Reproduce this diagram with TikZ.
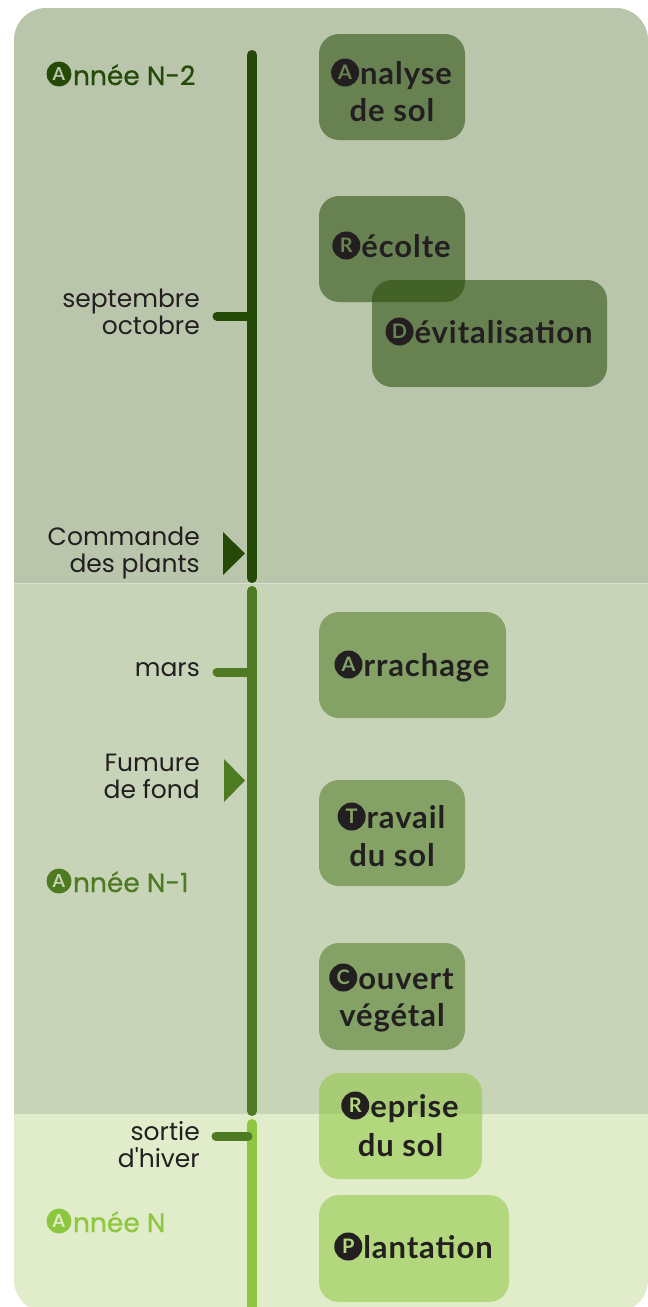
\documentclass[tikz,border=0pt]{standalone}
\usepackage{fontspec}
\setmainfont{Lato}
\newfontfamily\labfont{Poppins}
\newfontfamily\yearfont[FakeBold=0.6]{Poppins}
\newfontfamily\boxfont[LetterSpace=3]{Lato}
\definecolor{bgA}{HTML}{B9C6AC}
\definecolor{bgB}{HTML}{C7D4B8}
\definecolor{bgC}{HTML}{E0ECCA}
\definecolor{gA}{HTML}{254A08}
\definecolor{gB}{HTML}{4E7A22}
\definecolor{gC}{HTML}{8DC63F}
\definecolor{txt}{HTML}{231F20}
\definecolor{boxAa}{HTML}{688252}
\definecolor{boxBa}{HTML}{84A265}
\definecolor{boxCa}{HTML}{B2D77E}
\tikzset{
  stepbox/.style={rounded corners=20pt, fill opacity=0.55, draw=none},
  btxt/.style={anchor=base, inner sep=0pt, outer sep=0pt, text=txt,
    font=\boxfont\bfseries\fontsize{31}{37}\selectfont},
  bcirc/.style={circle, fill=txt, minimum size=28pt, inner sep=0pt, outer sep=0pt,
    font=\normalfont\bfseries\fontsize{20}{20}\selectfont},
  ycirc/.style={circle, minimum size=25pt, inner sep=0pt, outer sep=0pt,
    font=\normalfont\bfseries\fontsize{18}{18}\selectfont},
  lab/.style={anchor=east, inner sep=0pt, align=right, text=txt,
    font=\labfont\fontsize{25}{27}\selectfont},
  yearlab/.style={anchor=base west, inner sep=0pt, outer sep=0pt,
    font=\yearfont\fontsize{26.5}{28}\selectfont},
  tl/.style={line width=10pt, line cap=round},
  tick/.style={line width=9pt, line cap=round},
}
\begin{document}
\begin{tikzpicture}[x=1pt,y=-1pt]
\useasboundingbox (0,0) rectangle (648,1307);
% background bands
\begin{scope}
\clip[rounded corners=32pt] (14,8) rectangle (648,1312);
\fill[bgA] (14,8) rectangle (648,583.5);
\fill[bgB] (14,583.5) rectangle (648,1114);
\fill[bgC] (14,1114) rectangle (648,1312);
\draw[white, opacity=0.45, line width=1pt] (14,583.5) -- (648,583.5);
\end{scope}
% timeline
\coordinate (t1a) at (252,55);
\coordinate (t1b) at (252,578);
\coordinate (t2a) at (252,591);
\coordinate (t2b) at (252,1111);
\coordinate (t3a) at (252,1124);
\coordinate (t3b) at (252,1330);
\draw[tl, gA] (t1a) -- (t1b);
\draw[tl, gB] (t2a) -- (t2b);
\draw[tl, gC] (t3a) -- (t3b);
% ticks
\coordinate (k1) at (217,316);
\coordinate (k1e) at (252,316);
\coordinate (k2) at (217,672);
\coordinate (k2e) at (252,672);
\coordinate (k3) at (216,1136);
\coordinate (k3e) at (248,1136);
\draw[tick, gA] (k1) -- (k1e);
\draw[tick, gB] (k2) -- (k2e);
\draw[tick, gB] (k3) -- (k3e);
% triangles
\fill[gA] (223,532) -- (245,553.5) -- (223,575) -- cycle;
\fill[gB] (224,759) -- (245,780.5) -- (224,802) -- cycle;
% year labels
\node[yearlab, text=gA] (yA) at (73,85) {nnée N-2};
\node[ycirc, fill=gA, text=bgA] (yAc) at ([xshift=-14pt,yshift=11pt]yA.base west) {A};
\node[yearlab, text=gB] (yB) at (73,892) {nnée N-1};
\node[ycirc, fill=gB, text=bgB] (yBc) at ([xshift=-14pt,yshift=11pt]yB.base west) {A};
\node[yearlab, text=gC] (yC) at (73,1232) {nnée N};
\node[ycirc, fill=gC, text=bgC] (yCc) at ([xshift=-14pt,yshift=11pt]yC.base west) {A};
% left labels
\node[lab] (lsept) at (200,312) {septembre\\octobre};
\node[lab] (lcmd) at (200,553) {Commande\\des plants};
\node[lab] (lmars) at (200,670) {mars};
\node[lab] (lfum) at (200,776) {Fumure\\de fond};
\node[lab] (lsort) at (200,1145) {sortie\\d'hiver};
% boxes
\fill[stepbox, gA] (319,34) rectangle (465,140);
\fill[stepbox, gA] (319,196) rectangle (465,302);
\fill[stepbox, gA] (372,280) rectangle (607,387);
\fill[stepbox, gB] (319,612) rectangle (506,718);
\fill[stepbox, gB] (319,780) rectangle (465,886);
\fill[stepbox, gB] (319,943) rectangle (465,1050);
\fill[stepbox, gC] (319,1073) rectangle (482,1179);
\fill[stepbox, gC] (319,1195) rectangle (509,1302);
% box texts
\node[btxt] (bA1) at (406,84) {nalyse};
\node[bcirc, text=boxAa] (bAc) at ([xshift=-15pt,yshift=11.5pt]bA1.base west) {A};
\node[btxt] (bA2) at (392,121) {de sol};
\node[btxt] (bR1) at (406,257) {écolte};
\node[bcirc, text=boxAa] (bRc) at ([xshift=-15pt,yshift=11.5pt]bR1.base west) {R};
\node[btxt] (bD1) at (503.5,343) {évitalisation};
\node[bcirc, text=boxAa] (bDc) at ([xshift=-15pt,yshift=11.5pt]bD1.base west) {D};
\node[btxt] (bAr1) at (426.5,676) {rrachage};
\node[bcirc, text=boxBa] (bArc) at ([xshift=-15pt,yshift=11.5pt]bAr1.base west) {A};
\node[btxt] (bT1) at (406,828) {ravail};
\node[bcirc, text=boxBa] (bTc) at ([xshift=-15pt,yshift=11.5pt]bT1.base west) {T};
\node[btxt] (bT2) at (392,866) {du sol};
\node[btxt] (bC1) at (406,989) {ouvert};
\node[bcirc, text=boxBa] (bCc) at ([xshift=-15pt,yshift=11.5pt]bC1.base west) {C};
\node[btxt] (bC2) at (392,1026) {végétal};
\node[btxt] (bRe1) at (414.5,1117) {eprise};
\node[bcirc, text=boxCa] (bRec) at ([xshift=-15pt,yshift=11.5pt]bRe1.base west) {R};
\node[btxt] (bRe2) at (400.5,1156) {du sol};
\node[btxt] (bP1) at (428,1258) {lantation};
\node[bcirc, text=boxCa] (bPc) at ([xshift=-15pt,yshift=11.5pt]bP1.base west) {P};
\end{tikzpicture}
\end{document}
